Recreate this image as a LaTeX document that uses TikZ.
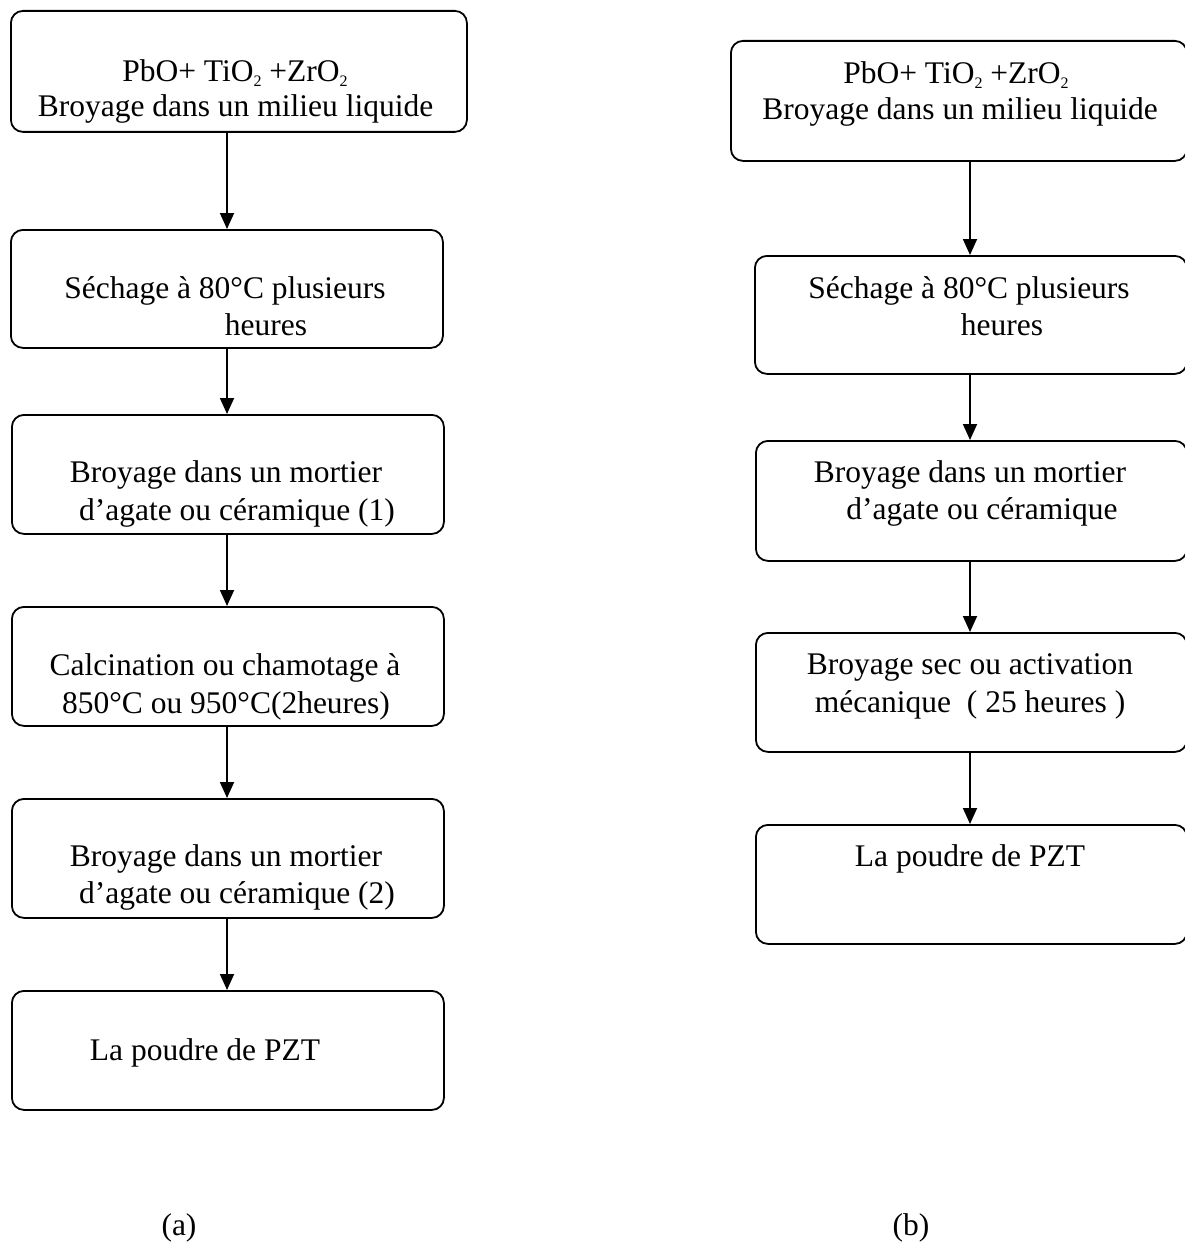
\documentclass[tikz,border=0pt]{standalone}
\usepackage{fontspec}
\setmainfont{Liberation Serif}
\usetikzlibrary{arrows.meta}
\newcommand\mysub[1]{\raisebox{-5pt}{\fontsize{16}{16}\selectfont #1}}
\begin{document}
\begin{tikzpicture}[x=1pt,y=-1pt,
  box/.style={draw=black,line width=1.8pt,rounded corners=12pt,anchor=north west,inner sep=0pt,minimum width=#1},
  txt/.style={anchor=base,inner sep=0pt,font=\fontsize{31.5}{37}\selectfont},
  arr/.style={line width=1.8pt,-{Triangle[width=14pt,length=16pt]}}]
\useasboundingbox (0,0) rectangle (1184,1244);
% left column boxes
\node[box=456pt,minimum height=121pt] (L1) at (10,10) {};
\node[box=432pt,minimum height=118pt] (L2) at (10,229) {};
\node[box=432pt,minimum height=119pt] (L3) at (11,414) {};
\node[box=432pt,minimum height=119pt] (L4) at (11,606) {};
\node[box=432pt,minimum height=119pt] (L5) at (11,798) {};
\node[box=432pt,minimum height=119pt] (L6) at (11,990) {};
% right column boxes
\node[box=456pt,minimum height=120pt] (R1) at (730,40) {};
\node[box=432pt,minimum height=118pt] (R2) at (754,255) {};
\node[box=431pt,minimum height=120pt] (R3) at (755,440) {};
\node[box=431pt,minimum height=119pt] (R4) at (755,632) {};
\node[box=431pt,minimum height=119pt] (R5) at (755,824) {};
% texts left
\node[txt] (tL1a) at (235,82) {PbO+ TiO\mysub{2} +ZrO\mysub{2}};
\node[txt] (tL1b) at (235.5,117) {Broyage dans un milieu liquide};
\node[txt] (tL2a) at (225,298) {Séchage à 80°C plusieurs};
\node[txt] (tL2b) at (266,335) {heures};
\node[txt] (tL3a) at (226,482) {Broyage dans un mortier};
\node[txt] (tL3b) at (237,520) {d’agate ou céramique (1)};
\node[txt] (tL4a) at (225,675) {Calcination ou chamotage à};
\node[txt] (tL4b) at (226,713) {850°C ou 950°C(2heures)};
\node[txt] (tL5a) at (226,866) {Broyage dans un mortier};
\node[txt] (tL5b) at (237,903) {d’agate ou céramique (2)};
\node[txt] (tL6) at (205,1060) {La poudre de PZT};
% texts right
\node[txt] (tR1a) at (956,84) {PbO+ TiO\mysub{2} +ZrO\mysub{2}};
\node[txt] (tR1b) at (960,120) {Broyage dans un milieu liquide};
\node[txt] (tR2a) at (969,298) {Séchage à 80°C plusieurs};
\node[txt] (tR2b) at (1002,335) {heures};
\node[txt] (tR3a) at (970,482) {Broyage dans un mortier};
\node[txt] (tR3b) at (982,519) {d’agate ou céramique};
\node[txt] (tR4a) at (970,674) {Broyage sec ou activation};
\node[txt] (tR4b) at (970,712) {mécanique \ ( 25 heures )};
\node[txt] (tR5) at (970,866) {La poudre de PZT};
% captions
\node[txt] (capa) at (179,1235) {(a)};
\node[txt] (capb) at (911,1235) {(b)};
% arrow axes
\coordinate (axL) at (227,0);
\coordinate (axR) at (970,0);
\draw[arr] (axL |- L1.south) -- (axL |- L2.north);
\draw[arr] (axL |- L2.south) -- (axL |- L3.north);
\draw[arr] (axL |- L3.south) -- (axL |- L4.north);
\draw[arr] (axL |- L4.south) -- (axL |- L5.north);
\draw[arr] (axL |- L5.south) -- (axL |- L6.north);
\draw[arr] (axR |- R1.south) -- (axR |- R2.north);
\draw[arr] (axR |- R2.south) -- (axR |- R3.north);
\draw[arr] (axR |- R3.south) -- (axR |- R4.north);
\draw[arr] (axR |- R4.south) -- (axR |- R5.north);
\end{tikzpicture}
\end{document}
